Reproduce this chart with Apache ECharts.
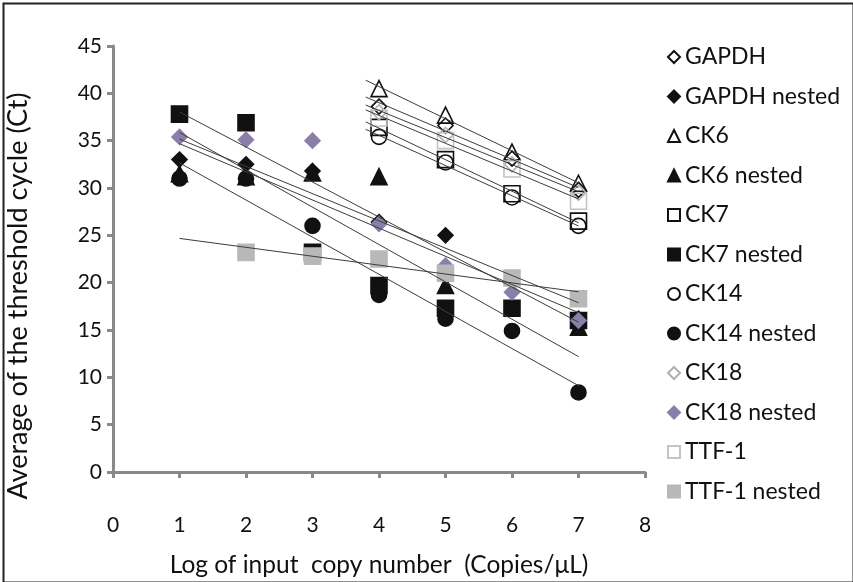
<!DOCTYPE html>
<html>
<head>
<meta charset="utf-8">
<script src="https://cdn.jsdelivr.net/npm/echarts@6/dist/echarts.min.js"></script>
<style>
    html, body {margin: 0; padding: 0; background: #fff;}
    #chart {width: 853px; height: 582px;}
</style>
</head>
<body>
<div id="chart"></div>
<script>
// x positions (log of input copy number)
const xs = [1, 2, 3, 4, 5, 6, 7];

// average Ct per series, null where no point is plotted
const gapdh = [null, null, null, 38.6, 36.6, 33.1, 29.8];
const gapdhNested = [33, 32.5, 31.8, 26.4, 25, null, 16.2];
const ck6 = [null, null, null, 40.5, 37.7, 33.8, 30.5];
const ck6Nested = [31.5, 31.2, 31.6, 31.2, 19.7, null, 15.3];
const ck7 = [null, null, null, 36.4, 33, 29.4, 26.5];
const ck7Nested = [37.8, 36.9, 23.2, 19.7, 17.3, 17.3, 16];
const ck14 = [null, null, null, 35.4, 32.7, 29, 26];
const ck14Nested = [31, 31, 26, 18.7, 16.2, 14.9, 8.4];
const ck18 = [null, null, null, 38, 35.6, 32.5, 29.5];
const ck18Nested = [35.4, 35.1, 35, 26.2, 21.8, 19, 16];
const ttf1 = [null, null, null, 37.4, 35, 32, 28.6];
const ttf1Nested = [null, 23.2, 22.8, 22.5, 21, 20.5, 18.3];

const yTicks = [0, 5, 10, 15, 20, 25, 30, 35, 40, 45];
const xTicks = [0, 1, 2, 3, 4, 5, 6, 7, 8];

const FONT = 'Lato';

// name, values, symbol, size, fill, border, trendline start
const seriesDefs = [
    ['GAPDH', gapdh, 'diamond', 15, 'rgba(0,0,0,0)', '#111', 3.8],
    ['GAPDH nested', gapdhNested, 'diamond', 15, '#111', '#111', 1],
    ['CK6', ck6, 'triangle', 16, 'rgba(0,0,0,0)', '#111', 3.8],
    ['CK6 nested', ck6Nested, 'triangle', 16, '#111', '#111', 1],
    ['CK7', ck7, 'rect', 16, 'rgba(0,0,0,0)', '#111', 3.8],
    ['CK7 nested', ck7Nested, 'rect', 16, '#111', '#111', 1],
    ['CK14', ck14, 'circle', 15, 'rgba(0,0,0,0)', '#111', 3.8],
    ['CK14 nested', ck14Nested, 'circle', 15, '#111', '#111', 1],
    ['CK18', ck18, 'diamond', 15, 'rgba(0,0,0,0)', '#b0b0b0', 3.8],
    ['CK18 nested', ck18Nested, 'diamond', 15, '#8a7fa8', '#8a7fa8', 1],
    ['TTF-1', ttf1, 'rect', 16, 'rgba(0,0,0,0)', '#c4c4c4', 3.8],
    ['TTF-1 nested', ttf1Nested, 'rect', 16, '#b8b8b8', '#b8b8b8', 1],
];

// least squares line through the plotted points
const fitLine = (vals, x0, x1) => {
    let pts = xs.map((x, i) => [x, vals[i]]).filter(p => p[1] != null);
    let n = pts.length;
    let mx = pts.reduce((s, p) => s + p[0], 0) / n;
    let my = pts.reduce((s, p) => s + p[1], 0) / n;
    let sxy = 0, sxx = 0;
    pts.forEach(p => {
        sxy += (p[0] - mx) * (p[1] - my);
        sxx += (p[0] - mx) * (p[0] - mx);
    });
    let b = sxy / sxx;
    return [[x0, my + b * (x0 - mx)], [x1, my + b * (x1 - mx)]];
};

let series = [];
seriesDefs.forEach(([name, vals, symbol, size, fill, border]) => {
    series.push({
        name: name,
        type: 'scatter',
        symbol: symbol,
        symbolSize: size,
        z: 2,
        itemStyle: {color: fill, borderColor: border, borderWidth: 1.6, opacity: 1},
        data: xs.map((x, i) => [x, vals[i]]).filter(p => p[1] != null),
    });
});
seriesDefs.forEach(([name, vals, , , , , x0]) => {
    series.push({
        name: name + ' trend',
        type: 'line',
        symbol: 'none',
        silent: true,
        z: 5,
        lineStyle: {color: '#3c3c3c', width: 1},
        data: fitLine(vals, x0, 7),
    });
});

let chart = echarts.init(document.getElementById('chart'));
chart.setOption({
    animation: false,
    backgroundColor: '#fff',
    grid: {left: 113, top: 46, right: 208, bottom: 110, outerBoundsMode: 'none', containLabel: false},
    legend: {
        orient: 'vertical',
        left: 667,
        top: 45.5,
        padding: 0,
        itemWidth: 12,
        itemHeight: 12,
        itemGap: 16.5,
        data: seriesDefs.map(d => d[0]),
        textStyle: {fontFamily: FONT, fontSize: 23, color: '#111', lineHeight: 23},
        selectedMode: false,
    },
    xAxis: {
        type: 'value',
        min: 0,
        max: 8,
        interval: 1,
        name: 'Log of input  copy number  (Copies/μL)',
        nameLocation: 'middle',
        nameGap: 81,
        nameTextStyle: {fontFamily: FONT, fontSize: 24.5, color: '#111'},
        axisLine: {show: true, lineStyle: {color: '#898989', width: 3}},
        axisTick: {show: true, length: 6, lineStyle: {color: '#898989', width: 3}},
        axisLabel: {
            fontFamily: FONT, fontSize: 21, color: '#111', margin: 43,
            formatter: v => xTicks.includes(v) ? String(v) : ''
        },
        splitLine: {show: false},
    },
    yAxis: {
        type: 'value',
        min: 0,
        max: 45,
        interval: 5,
        axisLine: {show: true, lineStyle: {color: '#898989', width: 3}},
        axisTick: {show: true, length: 6, lineStyle: {color: '#898989', width: 3}},
        axisLabel: {
            fontFamily: FONT, fontSize: 21, color: '#111', margin: 11,
            formatter: v => yTicks.includes(v) ? String(v) : ''
        },
        splitLine: {show: false},
    },
    graphic: [{
        type: 'rect',
        left: 1,
        top: 1,
        shape: {width: 850, height: 579},
        style: {fill: 'none', stroke: '#222', lineWidth: 2},
        silent: true,
    }, {
        type: 'text',
        x: 18,
        y: 296,
        rotation: Math.PI / 2,
        silent: true,
        style: {
            text: 'Average of the threshold cycle (Ct)',
            fontFamily: FONT,
            fontSize: 27,
            fill: '#111',
            align: 'center',
            verticalAlign: 'middle',
        },
    }],
    series: series,
});
</script>
</body>
</html>
